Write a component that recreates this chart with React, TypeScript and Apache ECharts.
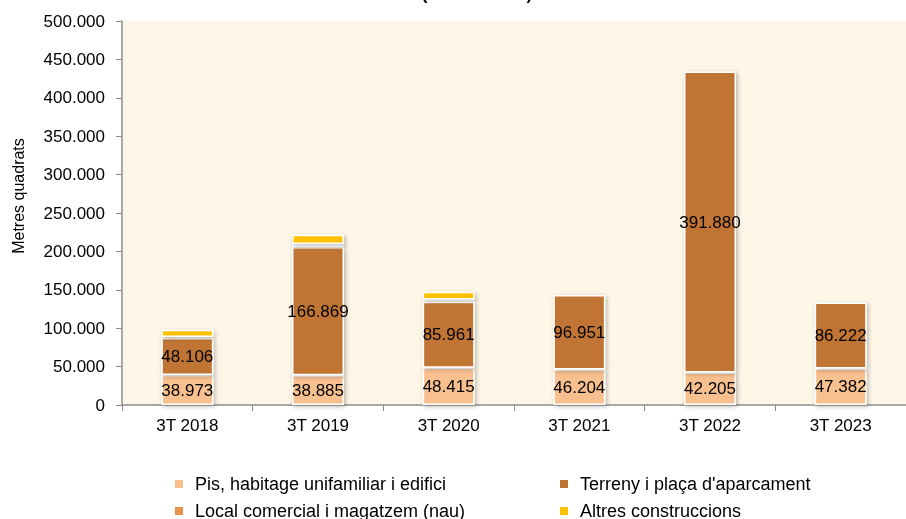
import React, { useEffect, useRef } from "react";
import * as echarts from "echarts";

const categories = ["3T 2018", "3T 2019", "3T 2020", "3T 2021", "3T 2022", "3T 2023"];
const seriesNames = [
  "Pis, habitage unifamiliar i edifici",
  "Terreny i plaça d'aparcament",
  "Local comercial i magatzem (nau)",
  "Altres construccions",
];
const pis = [38973, 38885, 48415, 46204, 42205, 47382];
const terreny = [48106, 166869, 85961, 96951, 391880, 86222];
const local = [1500, 4000, 3000, 1000, 1500, 1500];
const altres = [9500, 12000, 10000, 1000, 1000, 1000];
const colors = ["#F9C08F", "#C07434", "#E8914A", "#FFC000"];
const yTicks = { min: 0, max: 500000, interval: 50000 };

const fmt = (v: number) => {
  const s = Math.round(v).toString();
  return s.replace(/\B(?=(\d{3})+(?!\d))/g, ".");
};

export default function App() {
  const ref = useRef<HTMLDivElement>(null);
  useEffect(() => {
    if (!ref.current) return;
    const chart = echarts.init(ref.current, undefined, { renderer: "svg" });
    const font = "Liberation Sans, Arial, sans-serif";
    const itemStyle = (c: string) => ({
      color: c,
      borderColor: "#ffffff",
      borderWidth: 1.5,
      shadowColor: "rgba(0,0,0,0.28)",
      shadowBlur: 4,
      shadowOffsetX: 1.5,
      shadowOffsetY: 1.5,
    });
    const label = {
      show: true,
      position: "inside",
      color: "#000",
      fontSize: 17,
      fontFamily: font,
      formatter: (p: any) => fmt(p.value),
    };
    const datasets = [pis, terreny, local, altres];
    const legendPos = [
      { left: 170, top: 470 },
      { left: 555, top: 470 },
      { left: 170, top: 497 },
      { left: 555, top: 497 },
    ];
    chart.setOption({
      animation: false,
      textStyle: { fontFamily: font },
      grid: {
        left: 122,
        top: 21,
        height: 384,
        width: 794,
        show: true,
        backgroundColor: "#FEF6E7",
        borderWidth: 0,
      },
      graphic: [
        {
          type: "text",
          x: 477,
          y: -14,
          style: {
            text: "(Illes Balears)",
            fontSize: 17,
            fontWeight: "bold",
            fontFamily: font,
            fill: "#000",
            textAlign: "center",
          },
        },
        {
          type: "text",
          x: 10,
          y: 196,
          rotation: Math.PI / 2,
          style: {
            text: "Metres quadrats",
            fontSize: 16,
            fontFamily: font,
            fill: "#000",
            textAlign: "center",
            textVerticalAlign: "top",
          },
        },
      ],
      legend: seriesNames.map((n, i) => ({
        data: [n],
        left: legendPos[i].left,
        top: legendPos[i].top,
        icon: "rect",
        itemWidth: 8,
        itemHeight: 8,
        itemGap: 8,
        itemStyle: { borderWidth: 0, shadowBlur: 0, shadowOffsetX: 0, shadowOffsetY: 0 },
        textStyle: {
          fontSize: 18,
          color: "#000",
          fontFamily: font,
          padding: [0, 0, 0, 7],
        },
      })),
      xAxis: {
        type: "category",
        data: categories,
        axisLine: { lineStyle: { color: "#8C8C8C", width: 1.5 } },
        axisTick: { show: true, length: 6, lineStyle: { color: "#8C8C8C" } },
        axisLabel: { fontSize: 17, color: "#000", margin: 12, fontFamily: font },
      },
      yAxis: {
        type: "value",
        min: yTicks.min,
        max: yTicks.max,
        interval: yTicks.interval,
        axisLine: { show: true, lineStyle: { color: "#8C8C8C", width: 1.5 } },
        axisTick: { show: true, length: 6, lineStyle: { color: "#8C8C8C" } },
        splitLine: { show: false },
        axisLabel: {
          fontSize: 17,
          color: "#000",
          margin: 17,
          fontFamily: font,
          formatter: (v: number) => fmt(v),
        },
      },
      series: datasets.map((d, i) => ({
        name: seriesNames[i],
        type: "bar",
        stack: "total",
        barWidth: 52,
        data: d,
        itemStyle: itemStyle(colors[i]),
        label: i < 2 ? label : { show: false },
      })),
    });
    return () => chart.dispose();
  }, []);
  return (
    <div
      ref={ref}
      style={{ position: "fixed", left: 0, top: 0, width: 906, height: 519 }}
    />
  );
}
